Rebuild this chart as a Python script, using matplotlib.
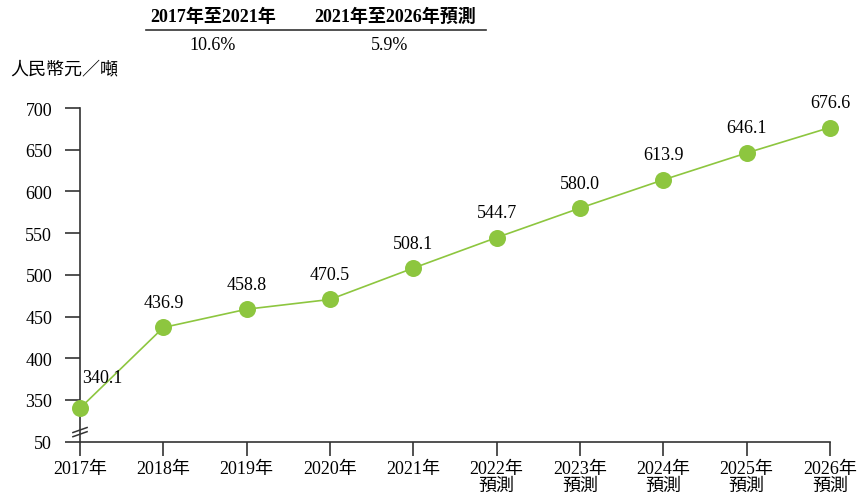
import matplotlib
matplotlib.use("Agg")
import matplotlib.pyplot as plt

plt.rcParams['font.family'] = ['Liberation Serif', 'Noto Sans CJK TC']

# ---- data ----
years = ['2017年', '2018年', '2019年', '2020年', '2021年',
         '2022年\n預測', '2023年\n預測', '2024年\n預測', '2025年\n預測', '2026年\n預測']
prices = [340.1, 436.9, 458.8, 470.5, 508.1, 544.7, 580.0, 613.9, 646.1, 676.6]
ytick_vals = [300, 350, 400, 450, 500, 550, 600, 650, 700]
ytick_labels = ['50', '350', '400', '450', '500', '550', '600', '650', '700']
cagr_periods = ['2017年至2021年', '2021年至2026年預測']
cagr_values = ['10.6%', '5.9%']

GREEN = '#8DC63F'
FS = 13

fig = plt.figure(figsize=(8.59, 5.02), dpi=100)
ax = fig.add_axes([80/859, 1 - 442.7/502, 750/859, (442.7 - 109)/502])

x = list(range(len(prices)))
ax.plot(x, prices, color=GREEN, lw=1.2, zorder=2, clip_on=False)
ax.scatter(x, prices, s=150, color=GREEN, zorder=3, clip_on=False, linewidths=0)

for i, v in enumerate(prices):
    if i == 0:
        ax.text(i + 0.27, v + 37, f'{v:.1f}', ha='center', va='center', fontsize=FS)
    else:
        ax.text(i, v + 30, f'{v:.1f}', ha='center', va='center', fontsize=FS)

ax.set_xlim(0, len(prices) - 1)
ax.set_ylim(300, 700)
ax.set_xticks(x)
ax.set_xticklabels(years, fontsize=FS, linespacing=1.0)
ax.set_yticks(ytick_vals)
ax.set_yticklabels(ytick_labels, fontsize=FS)
ax.tick_params(axis='x', direction='out', length=10, width=1.2, color='#333333', pad=3)
ax.tick_params(axis='y', direction='out', length=11, width=1.2, color='#333333', pad=9)

for s in ['top', 'right']:
    ax.spines[s].set_visible(False)
for s in ['left', 'bottom']:
    ax.spines[s].set_linewidth(1.2)
    ax.spines[s].set_color('#333333')

# axis break marks
for y0 in (306, 311):
    ax.plot([-0.085, 0.085], [y0, y0 + 6], color='#333333', lw=1.1, clip_on=False, zorder=4)

# unit label
fig.text(10/859, 1 - 70/502, '人民幣元／噸', fontsize=FS, va='center', ha='left')

# CAGR header
cx = [213/859, 395/859]
for px, per, val in zip(cx, cagr_periods, cagr_values):
    fig.text(px, 1 - 17/502, per, fontsize=FS, fontweight='bold', ha='center', va='center')
    fig.text(px - (0 if px < 0.3 else 5/859), 1 - 46/502, val, fontsize=FS, ha='center', va='center')
fig.add_artist(plt.Line2D([146/859, 486/859], [1 - 31/502, 1 - 31/502],
                          color='#333333', lw=1.2, transform=fig.transFigure))

fig.savefig('out.png', dpi=100)
